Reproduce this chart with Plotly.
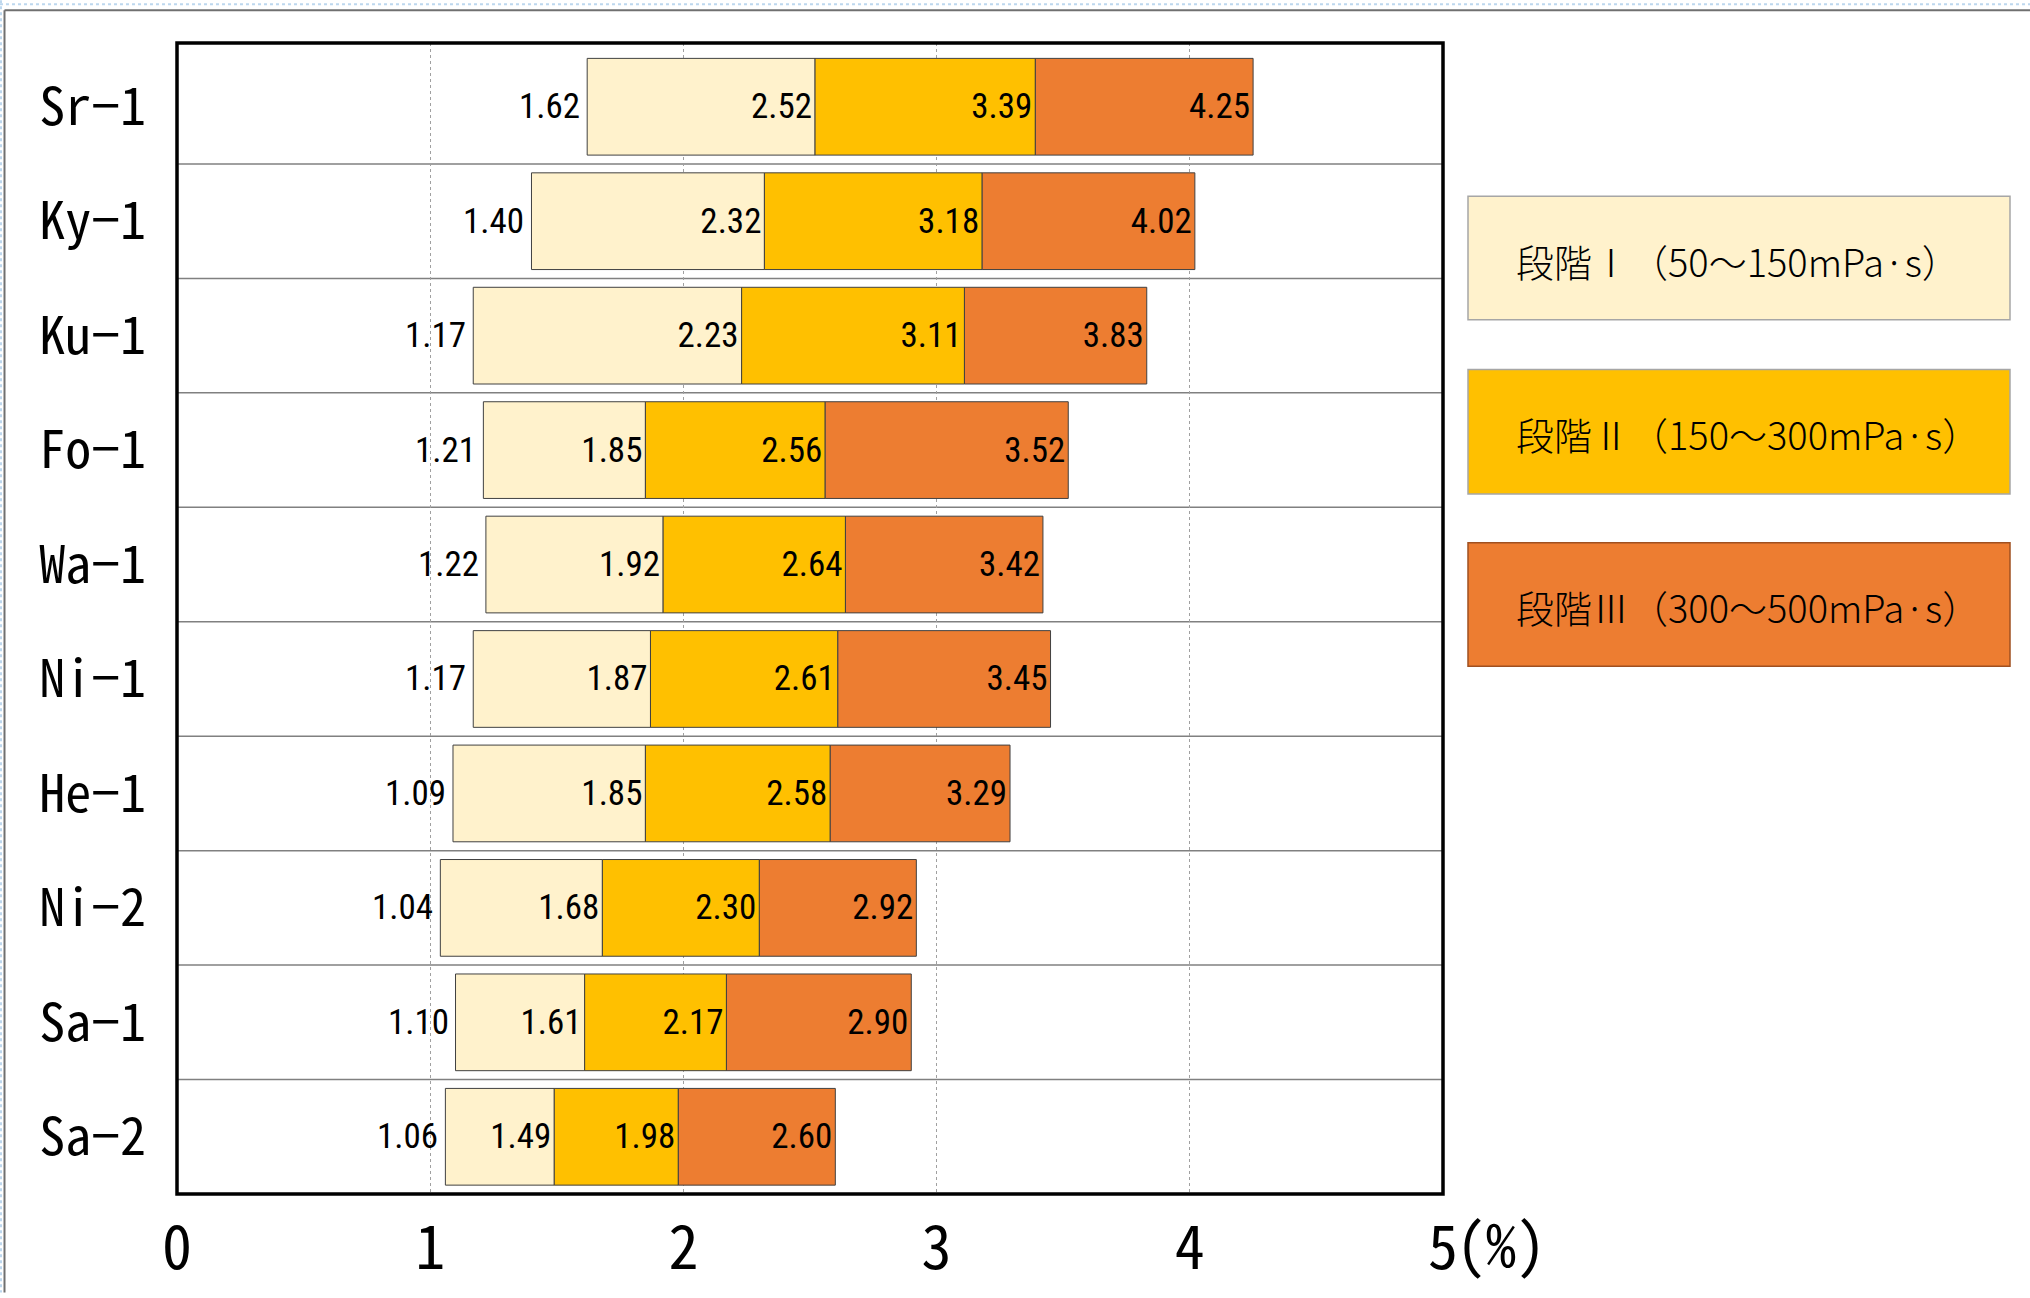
import plotly.graph_objects as go

categories = ["Sr−1", "Ky−1", "Ku−1", "Fo−1", "Wa−1", "Ni−1", "He−1", "Ni−2", "Sa−1", "Sa−2"]
start_vals = [1.62, 1.40, 1.17, 1.21, 1.22, 1.17, 1.09, 1.04, 1.10, 1.06]
stage1_end = [2.52, 2.32, 2.23, 1.85, 1.92, 1.87, 1.85, 1.68, 1.61, 1.49]
stage2_end = [3.39, 3.18, 3.11, 2.56, 2.64, 2.61, 2.58, 2.30, 2.17, 1.98]
stage3_end = [4.25, 4.02, 3.83, 3.52, 3.42, 3.45, 3.29, 2.92, 2.90, 2.60]
stage_names = ["段階Ⅰ（50～150mPa·s）", "段階Ⅱ（150～300mPa·s）", "段階Ⅲ（300～500mPa·s）"]
stage_colors = ["#FFF2CC", "#FFC000", "#ED7D31"]
x_ticks = [0, 1, 2, 3, 4, 5]
x_ticktext = ["0", "1", "2", "3", "4", "5"]

W, H = 2030, 1298
L, R, T, B = 177, 1443, 43, 1199

def xp(px):
    return (px - L) / (R - L)

def yp(py):
    return 1 - (py - T) / (B - T)

NUM_FONT = "Roboto Condensed, Liberation Sans Narrow, Arial Narrow, DejaVu Sans Condensed, Liberation Sans, sans-serif"
MONO_FONT = "Noto Sans Mono CJK JP, Noto Sans CJK JP, sans-serif"
CJK_FONT = "Noto Sans CJK JP, sans-serif"

idx = list(range(len(categories)))
fig = go.Figure()

bases = [start_vals, stage1_end, stage2_end]
ends = [stage1_end, stage2_end, stage3_end]
for s in range(3):
    widths = [e - b for e, b in zip(ends[s], bases[s])]
    fig.add_trace(go.Bar(
        y=idx, x=widths, base=bases[s], orientation="h",
        width=0.845,
        marker=dict(color=stage_colors[s], line=dict(color="#404040", width=1)),
        text=[f"{v:.2f}" for v in ends[s]],
        textposition="inside", insidetextanchor="end", textangle=0,
        constraintext="none",
        textfont=dict(family=NUM_FONT, size=35, color="black"),
        name=stage_names[s], showlegend=False, hoverinfo="skip",
    ))

annotations = []
for i, v in enumerate(start_vals):
    annotations.append(dict(xref="x", yref="y", x=v, y=i, xanchor="right", yanchor="middle",
                            xshift=-5, showarrow=False, text=f"{v:.2f}",
                            font=dict(family=NUM_FONT, size=35, color="black")))

shapes = []
# category separators
for i in range(len(categories) - 1):
    shapes.append(dict(type="line", xref="paper", yref="y", x0=0, x1=1, y0=i + 0.5, y1=i + 0.5,
                       line=dict(color="#808080", width=1.5), layer="below"))
# plot border
shapes.append(dict(type="rect", xref="paper", yref="paper", x0=0, x1=1, y0=0, y1=1,
                   line=dict(color="black", width=3.5), layer="above"))
# outer sheet decorations
shapes.append(dict(type="line", xref="paper", yref="paper", x0=xp(0), x1=xp(W), y0=yp(4), y1=yp(4),
                   line=dict(color="#BDD7EE", width=2, dash="dot")))
shapes.append(dict(type="line", xref="paper", yref="paper", x0=xp(1), x1=xp(1), y0=yp(0), y1=yp(H),
                   line=dict(color="#BDD7EE", width=2, dash="dot")))
shapes.append(dict(type="line", xref="paper", yref="paper", x0=xp(4.5), x1=xp(W), y0=yp(10), y1=yp(10),
                   line=dict(color="#707070", width=2)))
shapes.append(dict(type="line", xref="paper", yref="paper", x0=xp(4.5), x1=xp(4.5), y0=yp(10), y1=yp(H),
                   line=dict(color="#707070", width=2)))

# legend boxes
box_y = [(197, 321), (371, 496), (545, 669)]
box_border = ["#A6A6A6", "#A6A6A6", "#A05020"]
for s in range(3):
    y0, y1 = box_y[s]
    shapes.append(dict(type="rect", xref="paper", yref="paper", x0=xp(1468), x1=xp(2010),
                       y0=yp(y1), y1=yp(y0), fillcolor=stage_colors[s],
                       line=dict(color=box_border[s], width=1.5)))
    annotations.append(dict(xref="paper", yref="paper", x=xp(1514), y=yp((y0 + y1) / 2 + 2),
                            xanchor="left", yanchor="middle", showarrow=False,
                            text=stage_names[s],
                            font=dict(family=CJK_FONT, size=38, color="black", weight=300)))

annotations.append(dict(xref="x", yref="paper", x=5, y=yp(1246), xanchor="left", yanchor="middle",
                        xshift=11, showarrow=False, text="(%)",
                        font=dict(family=MONO_FONT, size=60, color="black", weight=300)))

fig.update_layout(
    width=W, height=H,
    margin=dict(l=L, r=W - R, t=T, b=H - B, pad=0),
    paper_bgcolor="white", plot_bgcolor="white",
    barmode="overlay",
    shapes=shapes, annotations=annotations,
    xaxis=dict(range=[0, 5], tickvals=x_ticks, ticktext=x_ticktext,
               showgrid=True, gridcolor="#A0A0A0", gridwidth=1, griddash="dot",
               zeroline=False, showline=False, ticks="", ticklabelstandoff=14,
               tickfont=dict(family=MONO_FONT, size=60, color="black", weight=300)),
    yaxis=dict(range=[9.5, -0.557], tickvals=idx, ticktext=categories,
               showgrid=False, zeroline=False, showline=False, ticks="",
               ticklabelstandoff=30,
               tickfont=dict(family=MONO_FONT, size=52, color="black", weight=300)),
)

fig.write_html("out.html")
